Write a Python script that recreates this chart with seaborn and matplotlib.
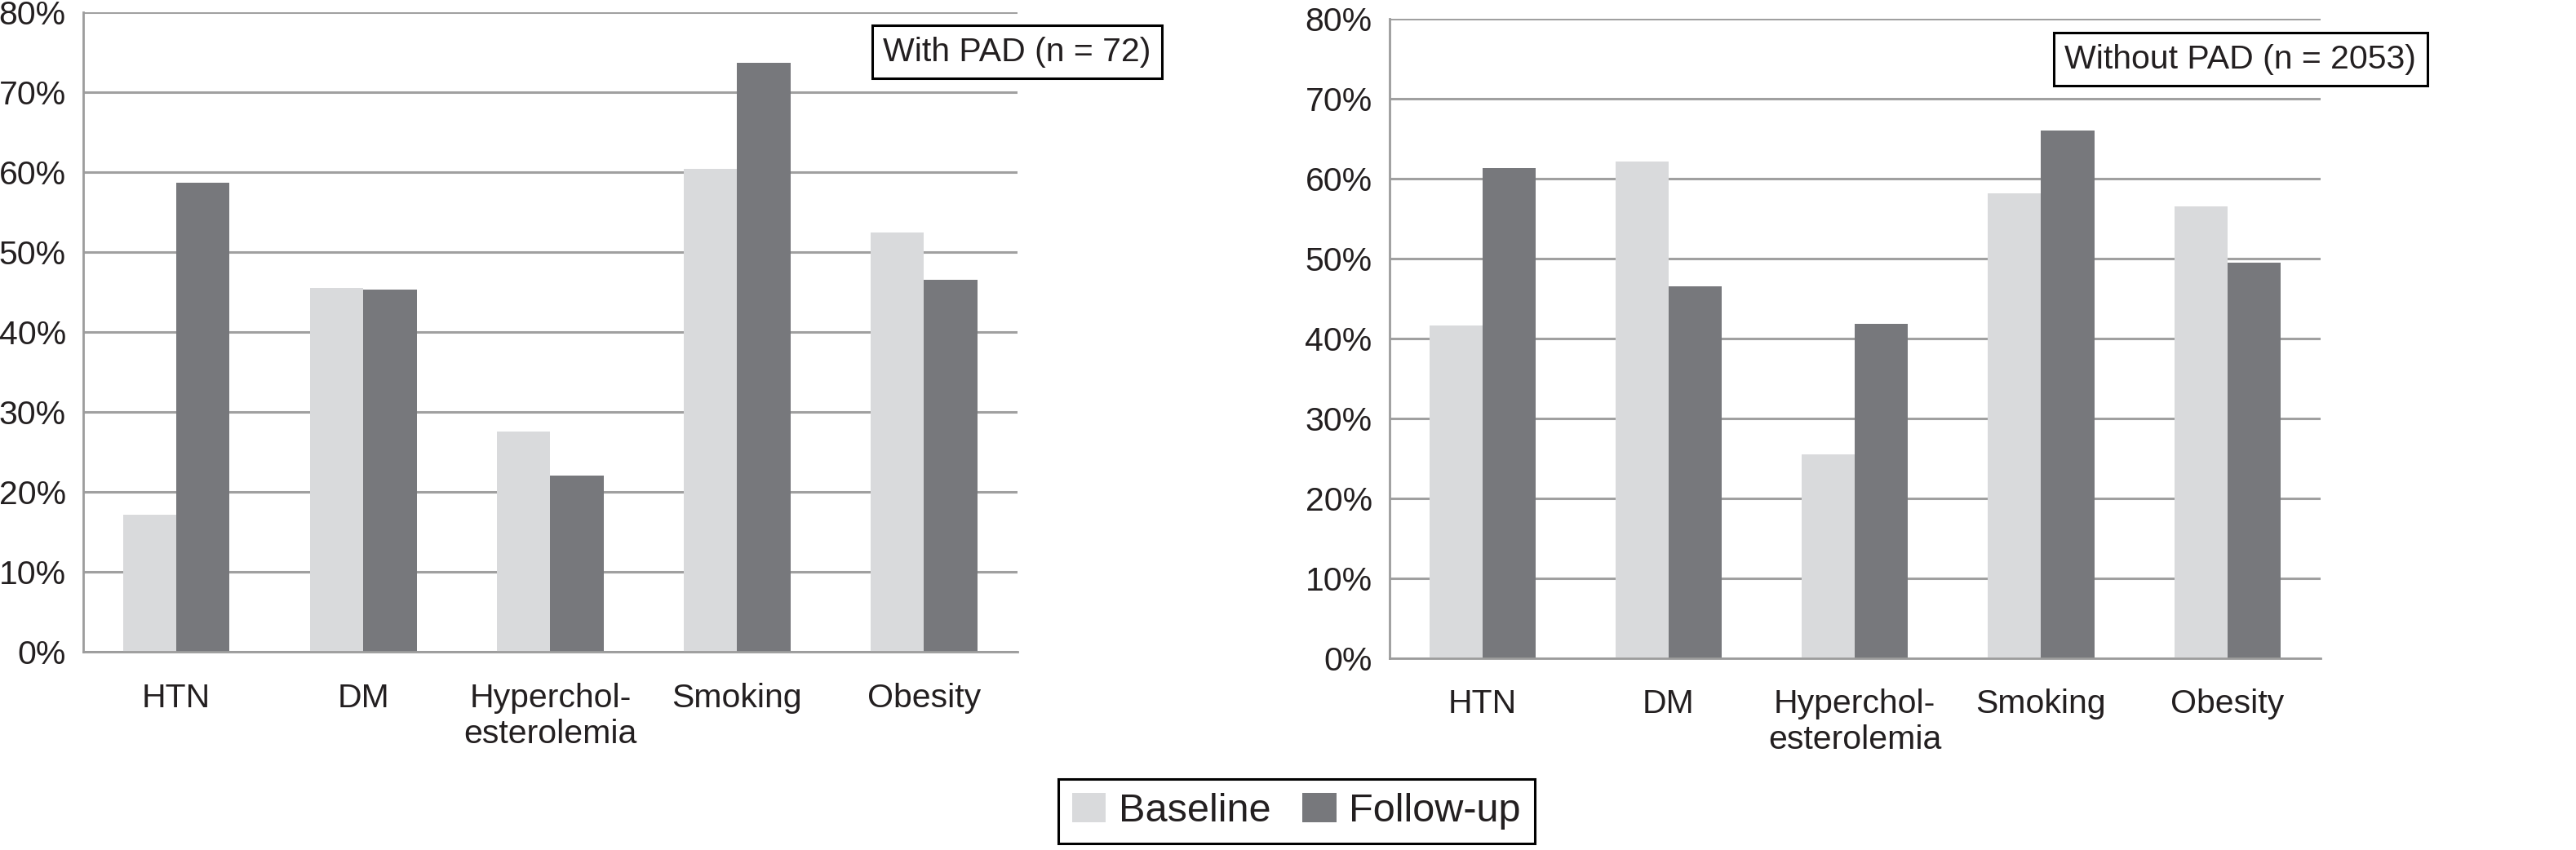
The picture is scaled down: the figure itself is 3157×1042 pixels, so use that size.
import pandas as pd
import matplotlib.pyplot as plt
import seaborn as sns
from matplotlib.ticker import FuncFormatter

# data (percent)
categories = ['HTN', 'DM', 'Hyperchol-\nesterolemia', 'Smoking', 'Obesity']
periods = ['Baseline', 'Follow-up']

with_pad_baseline = [17.2, 45.5, 27.6, 60.4, 52.5]
with_pad_followup = [58.7, 45.3, 22.1, 73.7, 46.5]
without_pad_baseline = [41.6, 62.1, 25.5, 58.1, 56.5]
without_pad_followup = [61.3, 46.5, 41.8, 66.0, 49.5]

panel_titles = ['With PAD (n = 72)', 'Without PAD (n = 2053)']
y_ticks = [0, 10, 20, 30, 40, 50, 60, 70, 80]

colors = {'Baseline': '#d9dadc', 'Follow-up': '#77787c'}
axis_gray = '#9c9c9c'
text_col = '#231f20'


def make_df(base, follow):
    return pd.DataFrame({
        'Risk factor': categories * 2,
        'Period': ['Baseline'] * len(base) + ['Follow-up'] * len(follow),
        'Percent': base + follow,
    })


sns.set_style('white')
plt.rcParams['font.family'] = ['Liberation Sans', 'DejaVu Sans']
plt.rcParams['text.color'] = text_col
plt.rcParams['xtick.color'] = text_col
plt.rcParams['ytick.color'] = text_col

fig = plt.figure(figsize=(31.57, 10.42), dpi=100)
ax1 = fig.add_axes([0.0322, 0.2332, 0.3628, 0.7521])
ax2 = fig.add_axes([0.5393, 0.2258, 0.3615, 0.7524])

dfs = [make_df(with_pad_baseline, with_pad_followup),
       make_df(without_pad_baseline, without_pad_followup)]

for i, (ax, df) in enumerate(zip([ax1, ax2], dfs)):
    sns.barplot(data=df, x='Risk factor', y='Percent', hue='Period',
                order=categories, hue_order=periods, palette=colors,
                width=0.57, saturation=1, linewidth=0, ax=ax,
                legend=(i == 0))
    ax.set_xlim(-0.5, len(categories) - 0.5)
    ax.set_ylim(0, 80)
    ax.set_yticks(y_ticks)
    ax.yaxis.set_major_formatter(FuncFormatter(lambda v, _: f'{v:.0f}%'))
    ax.set_xlabel('')
    ax.set_ylabel('')

    ax.yaxis.grid(True, color='#a0a0a0', linewidth=2.2)
    ax.xaxis.grid(False)
    ax.set_axisbelow(True)
    for s in ['top', 'right']:
        ax.spines[s].set_visible(False)
    for s in ['left', 'bottom']:
        ax.spines[s].set_color(axis_gray)
        ax.spines[s].set_linewidth(2)

    # category separators on the x axis
    ax.set_xticks([k - 0.5 for k in range(len(categories) + 1)], minor=True)
    ax.tick_params(axis='x', which='major', length=0, pad=27, labelsize=29.5)
    ax.tick_params(axis='x', which='minor', length=10, width=2, color=axis_gray)
    ax.tick_params(axis='y', length=8, width=2, color=axis_gray, pad=7,
                   labelsize=29.5)

# panel boxes
box = dict(boxstyle='square,pad=0.33', fc='white', ec='black', lw=2.2)
fig.text(0.3948, 0.939, panel_titles[0], ha='center', va='center',
         fontsize=29.5, bbox=box)
fig.text(0.8697, 0.9304, panel_titles[1], ha='center', va='center',
         fontsize=29.5, bbox=box)

handles, labels = ax1.get_legend_handles_labels()
ax1.get_legend().remove()
leg = fig.legend(handles, labels, loc='center', bbox_to_anchor=(0.5033, 0.0456),
                 ncol=2, fontsize=35, frameon=True, fancybox=False,
                 edgecolor='black', framealpha=1, handlelength=0.85,
                 handleheight=0.75, handletextpad=0.32, columnspacing=0.8,
                 borderpad=0.35)
leg.get_frame().set_linewidth(2.2)

fig.savefig('out.png', dpi=100)
